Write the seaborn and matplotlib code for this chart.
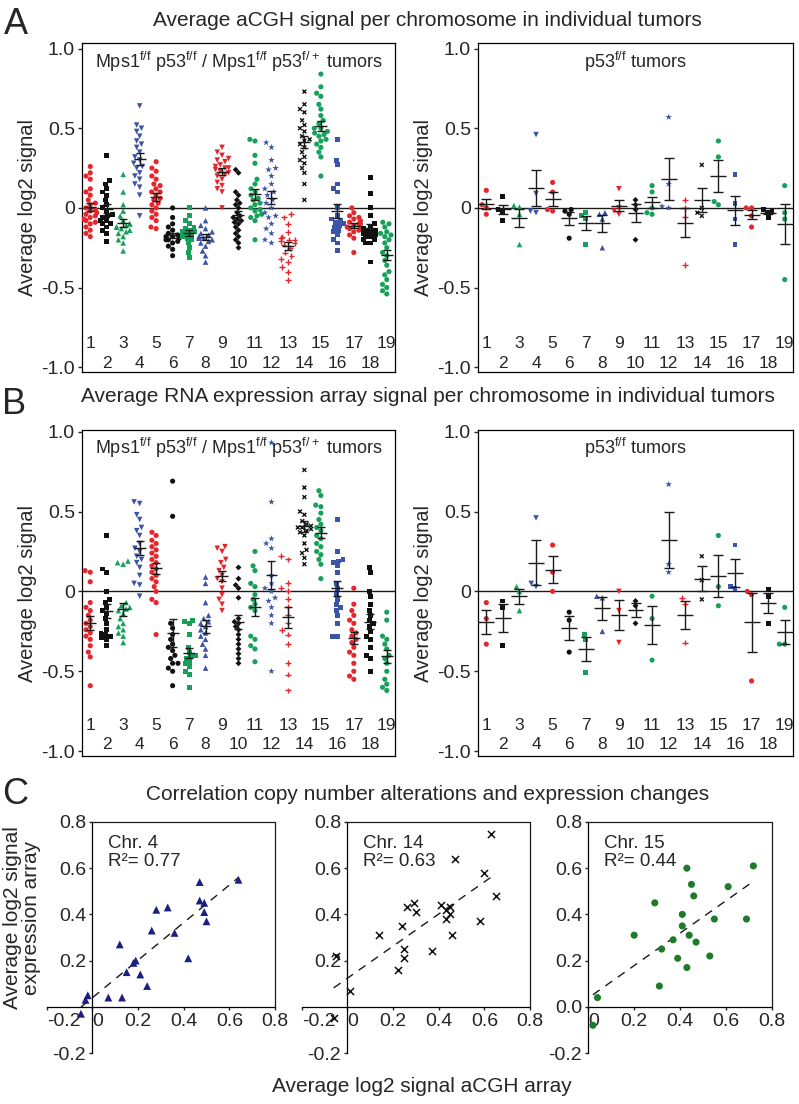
import warnings

import matplotlib
matplotlib.use("Agg")
import matplotlib.pyplot as plt
import matplotlib.transforms as mtrans
from matplotlib.markers import MarkerStyle
import numpy as np
import seaborn as sns

warnings.filterwarnings("ignore")

chroms = [str(i) for i in range(1, 20)]

# A, Mps1 f/f tumors: average aCGH log2 signal per chromosome (one list per chromosome)
acgh_mps1 = [
    [0.26, 0.22, 0.20, 0.18, 0.12, 0.10, 0.08, 0.05, 0.03, 0.02, 0.0, -0.01, -0.02, -0.03, -0.04, -0.05, -0.06, -0.07, -0.08, -0.09, -0.10, -0.12, -0.14, -0.16, -0.18],
    [0.33, 0.17, 0.15, 0.12, 0.10, 0.08, 0.05, 0.02, 0.0, -0.02, -0.04, -0.05, -0.06, -0.08, -0.10, -0.12, -0.14, -0.16, -0.21, -0.08, -0.10],
    [0.21, 0.10, 0.02, -0.02, -0.05, -0.08, -0.10, -0.11, -0.12, -0.13, -0.14, -0.15, -0.16, -0.18, -0.20, -0.22, -0.27, -0.12, -0.10],
    [0.64, 0.52, 0.50, 0.48, 0.45, 0.42, 0.40, 0.38, 0.35, 0.32, 0.30, 0.28, 0.26, 0.25, 0.22, 0.20, 0.18, 0.15, 0.13, 0.08, -0.05],
    [0.29, 0.25, 0.23, 0.20, 0.18, 0.15, 0.12, 0.10, 0.08, 0.06, 0.05, 0.03, 0.02, 0.0, -0.02, -0.04, -0.06, -0.08, -0.12, -0.13, 0.10, 0.14],
    [0.0, -0.06, -0.10, -0.12, -0.14, -0.16, -0.17, -0.18, -0.19, -0.20, -0.21, -0.22, -0.24, -0.26, -0.30, -0.18, -0.20],
    [0.0, -0.05, -0.08, -0.10, -0.12, -0.14, -0.15, -0.16, -0.17, -0.18, -0.19, -0.20, -0.22, -0.25, -0.28, -0.31, -0.13, -0.15],
    [0.0, -0.08, -0.11, -0.13, -0.15, -0.17, -0.18, -0.19, -0.20, -0.21, -0.22, -0.24, -0.27, -0.30, -0.34, -0.16, -0.19],
    [0.38, 0.35, 0.33, 0.31, 0.29, 0.27, 0.26, 0.25, 0.24, 0.23, 0.22, 0.21, 0.20, 0.18, 0.16, 0.14, 0.12, 0.10, 0.0, 0.25, 0.30],
    [0.24, 0.22, 0.10, 0.08, 0.05, 0.03, 0.02, 0.0, -0.03, -0.05, -0.07, -0.09, -0.10, -0.12, -0.14, -0.16, -0.18, -0.20, -0.22, -0.25, -0.06, -0.08],
    [0.43, 0.42, 0.33, 0.28, 0.18, 0.15, 0.12, 0.10, 0.08, 0.06, 0.05, 0.03, 0.02, 0.0, -0.01, -0.02, -0.04, -0.05, -0.06, -0.08, -0.20],
    [0.41, 0.38, 0.30, 0.25, 0.24, 0.20, 0.15, 0.12, 0.10, 0.05, 0.03, 0.0, -0.03, -0.06, -0.10, -0.13, -0.16, -0.20, -0.22, 0.08, -0.05],
    [-0.04, -0.06, -0.10, -0.15, -0.18, -0.20, -0.21, -0.22, -0.23, -0.25, -0.28, -0.30, -0.32, -0.34, -0.37, -0.40, -0.45, -0.20, -0.19],
    [0.73, 0.65, 0.62, 0.60, 0.55, 0.52, 0.50, 0.48, 0.45, 0.43, 0.42, 0.40, 0.38, 0.35, 0.32, 0.30, 0.28, 0.25, 0.22, 0.15, 0.05],
    [0.84, 0.76, 0.72, 0.70, 0.65, 0.62, 0.58, 0.55, 0.53, 0.50, 0.48, 0.47, 0.45, 0.43, 0.42, 0.40, 0.38, 0.35, 0.32, 0.20, 0.50, 0.46],
    [0.43, 0.30, 0.27, 0.15, 0.12, 0.10, 0.0, -0.05, -0.07, -0.09, -0.10, -0.12, -0.14, -0.15, -0.17, -0.20, -0.22, -0.27, -0.08, -0.11],
    [0.0, -0.03, -0.05, -0.07, -0.08, -0.09, -0.10, -0.11, -0.12, -0.13, -0.14, -0.15, -0.17, -0.19, -0.28, -0.10, -0.12, -0.06],
    [0.19, 0.09, 0.0, -0.05, -0.10, -0.12, -0.14, -0.15, -0.16, -0.17, -0.18, -0.20, -0.22, -0.34, -0.13, -0.15, -0.18, -0.20, -0.22],
    [-0.09, -0.10, -0.12, -0.15, -0.18, -0.20, -0.22, -0.25, -0.28, -0.30, -0.33, -0.36, -0.40, -0.42, -0.45, -0.48, -0.50, -0.52, -0.54, -0.16, -0.17],
]

# A, p53 f/f tumors
acgh_p53 = [
    [0.11, 0.02, 0.0, -0.04],
    [0.07, -0.01, -0.02, -0.08],
    [0.015, 0.005, -0.04, -0.23],
    [0.46, 0.09, -0.02, -0.03],
    [0.16, 0.10, -0.02, -0.01],
    [-0.01, -0.02, -0.04, -0.19],
    [-0.03, -0.05, -0.07, -0.23],
    [-0.03, -0.04, -0.07, -0.25],
    [0.12, 0.0, -0.02, -0.04],
    [0.05, 0.02, -0.01, -0.20],
    [0.14, 0.10, 0.0, -0.03, -0.04],
    [0.57, 0.15, 0.01, 0.0],
    [0.05, 0.0, -0.06, -0.36],
    [0.27, 0.0, -0.03, -0.05],
    [0.42, 0.32, 0.04, 0.02],
    [0.21, 0.03, -0.07, -0.23],
    [0.0, 0.0, -0.05, -0.12],
    [-0.01, -0.02, -0.03, -0.06],
    [0.14, -0.03, -0.07, -0.45],
]

# B, Mps1 f/f tumors: average RNA expression array log2 signal
rna_mps1 = [
    [0.13, 0.12, 0.06, -0.07, -0.10, -0.12, -0.15, -0.18, -0.20, -0.22, -0.24, -0.26, -0.28, -0.30, -0.34, -0.38, -0.41, -0.59],
    [0.35, 0.14, 0.12, 0.0, -0.05, -0.07, -0.10, -0.12, -0.14, -0.17, -0.20, -0.24, -0.26, -0.27, -0.28, -0.29, -0.30, -0.34],
    [0.19, 0.18, 0.17, -0.07, -0.09, -0.10, -0.11, -0.12, -0.14, -0.17, -0.20, -0.22, -0.24, -0.26, -0.28, -0.32],
    [0.56, 0.55, 0.48, 0.45, 0.40, 0.38, 0.35, 0.30, 0.27, 0.25, 0.22, 0.20, 0.18, 0.15, 0.10, 0.05, 0.04, -0.03],
    [0.37, 0.35, 0.32, 0.30, 0.28, 0.26, 0.24, 0.22, 0.20, 0.18, 0.16, 0.14, 0.12, 0.10, 0.08, 0.06, 0.03, 0.0, -0.05, -0.07, -0.27],
    [0.69, 0.47, -0.20, -0.23, -0.27, -0.30, -0.33, -0.35, -0.37, -0.40, -0.42, -0.45, -0.45, -0.48, -0.50, -0.59],
    [-0.18, -0.19, -0.20, -0.27, -0.35, -0.38, -0.40, -0.41, -0.42, -0.44, -0.45, -0.47, -0.50, -0.52, -0.60],
    [0.09, 0.05, -0.07, -0.15, -0.17, -0.19, -0.20, -0.22, -0.24, -0.26, -0.28, -0.30, -0.33, -0.36, -0.40, -0.48],
    [0.28, 0.27, 0.25, 0.20, 0.18, 0.15, 0.13, 0.10, 0.08, 0.06, 0.02, -0.02, -0.05, -0.08, -0.12],
    [0.15, 0.08, 0.04, 0.02, -0.04, -0.17, -0.19, -0.20, -0.22, -0.24, -0.27, -0.30, -0.33, -0.36, -0.39, -0.42, -0.45],
    [0.25, 0.16, 0.13, 0.05, 0.03, -0.02, -0.05, -0.08, -0.10, -0.12, -0.28, -0.30, -0.34, -0.36, -0.44],
    [0.93, 0.56, 0.33, 0.30, 0.27, 0.10, 0.05, 0.02, 0.0, -0.04, -0.06, -0.10, -0.15, -0.20, -0.50],
    [0.22, 0.20, 0.05, 0.02, 0.0, -0.05, -0.10, -0.15, -0.20, -0.24, -0.27, -0.33, -0.45, -0.52, -0.62],
    [0.76, 0.65, 0.59, 0.50, 0.48, 0.44, 0.42, 0.41, 0.40, 0.40, 0.39, 0.38, 0.37, 0.35, 0.30, 0.26, 0.24, 0.21, 0.17],
    [0.63, 0.60, 0.54, 0.53, 0.49, 0.45, 0.42, 0.40, 0.38, 0.35, 0.33, 0.30, 0.28, 0.25, 0.23, 0.20, 0.17, 0.08],
    [0.45, 0.25, 0.20, 0.19, 0.18, 0.16, 0.12, 0.05, 0.02, -0.02, -0.05, -0.08, -0.10, -0.12, -0.15, -0.20, -0.28, -0.28],
    [0.02, -0.08, -0.12, -0.15, -0.18, -0.20, -0.24, -0.26, -0.28, -0.30, -0.32, -0.35, -0.38, -0.40, -0.45, -0.50, -0.53, -0.55],
    [0.15, 0.12, 0.0, -0.03, -0.08, -0.12, -0.15, -0.18, -0.20, -0.22, -0.25, -0.28, -0.30, -0.35, -0.40, -0.42, -0.50],
    [-0.13, -0.18, -0.28, -0.30, -0.33, -0.36, -0.40, -0.42, -0.45, -0.50, -0.55, -0.58, -0.60, -0.62],
]

# B, p53 f/f tumors
rna_p53 = [
    [-0.07, -0.17, -0.33],
    [-0.06, -0.10, -0.34],
    [0.03, 0.0, -0.12],
    [0.46, 0.05, 0.03],
    [0.29, 0.12, 0.0],
    [-0.13, -0.18, -0.38],
    [-0.27, -0.30, -0.51],
    [-0.03, -0.04, -0.25],
    [0.0, -0.12, -0.32],
    [-0.06, -0.09, -0.20],
    [-0.03, -0.17, -0.43],
    [0.67, 0.17, 0.12],
    [-0.04, -0.08, -0.32],
    [0.22, 0.07, -0.05],
    [0.35, 0.03, -0.09],
    [0.29, 0.03, 0.02],
    [0.0, -0.02, -0.56],
    [0.01, -0.03, -0.20],
    [-0.10, -0.33, -0.33],
]

# C, per tumor: aCGH signal (x) vs expression signal (y)
chr4_acgh = [-0.05, -0.03, -0.02, 0.07, 0.13, 0.12, 0.15, 0.18, 0.19, 0.21, 0.24, 0.26, 0.28, 0.33, 0.36, 0.42, 0.47, 0.47, 0.49, 0.49, 0.50, 0.64]
chr4_rna = [-0.03, 0.03, 0.05, 0.04, 0.04, 0.27, 0.15, 0.19, 0.20, 0.14, 0.09, 0.33, 0.42, 0.43, 0.32, 0.21, 0.54, 0.46, 0.45, 0.41, 0.37, 0.55]
chr14_acgh = [-0.06, -0.05, 0.01, 0.14, 0.22, 0.24, 0.25, 0.25, 0.26, 0.29, 0.30, 0.37, 0.41, 0.43, 0.43, 0.45, 0.45, 0.46, 0.47, 0.58, 0.60, 0.63, 0.65]
chr14_rna = [-0.05, 0.22, 0.07, 0.31, 0.16, 0.35, 0.25, 0.21, 0.43, 0.45, 0.41, 0.24, 0.44, 0.38, 0.42, 0.43, 0.40, 0.31, 0.64, 0.37, 0.58, 0.75, 0.48]
chr15_acgh = [0.02, 0.04, 0.20, 0.29, 0.31, 0.32, 0.37, 0.39, 0.41, 0.41, 0.43, 0.43, 0.44, 0.45, 0.46, 0.47, 0.53, 0.55, 0.61, 0.69, 0.72]
chr15_rna = [-0.08, 0.04, 0.31, 0.45, 0.09, 0.25, 0.29, 0.21, 0.40, 0.35, 0.60, 0.17, 0.31, 0.53, 0.48, 0.28, 0.22, 0.38, 0.52, 0.38, 0.61]

RED, BLACK, GREEN, BLUE = "#e5262d", "#111111", "#17a05a", "#3c54a5"
colors = [RED, BLACK, GREEN, BLUE] * 4 + [RED, BLACK, GREEN]
markers = ["o", "s", "^", "v", "o", "o", "s", "^", "v", "D",
           "o", "*", "+", "x", "o", "s", "o", "s", "o"]
msize = {"o": 3.7, "s": 3.5, "^": 4.0, "v": 4.0, "D": 3.0, "*": 5.0, "+": 4.2, "x": 2.8}

sns.set_theme(style="white")
plt.rcParams["font.family"] = ["Liberation Sans", "DejaVu Sans"]
plt.rcParams["mathtext.fontset"] = "custom"
plt.rcParams["mathtext.rm"] = "Liberation Sans"
plt.rcParams["axes.edgecolor"] = "black"
plt.rcParams["axes.linewidth"] = 0.9

W, H = 799, 1104
fig = plt.figure(figsize=(W / 100, H / 100), dpi=100)


def box(x0, y0, x1, y1):
    return [x0 / W, 1 - y1 / H, (x1 - x0) / W, (y1 - y0) / H]


MPS1 = r"Mps1$^{\mathrm{f/f}}$ p53$^{\mathrm{f/f}}$ / Mps1$^{\mathrm{f/f}}$ p53$^{\mathrm{f/+}}$ tumors"
P53 = r"p53$^{\mathrm{f/f}}$ tumors"


def strip_panel(ax, data, label, ylim, half, cap, rows):
    xs = [chroms[i] for i, v in enumerate(data) for _ in v]
    ys = [y for v in data for y in v]
    n0 = len(ax.collections)
    # one swarm call per panel (each call redraws the figure), markers set afterwards
    sns.swarmplot(x=xs, y=ys, hue=xs, order=chroms, hue_order=chroms,
                  palette=dict(zip(chroms, colors)), size=4, linewidth=0,
                  legend=False, ax=ax, zorder=3)
    for coll, m, c in zip(ax.collections[n0:], markers, colors):
        ms = MarkerStyle(m)
        coll.set_paths([ms.get_path().transformed(ms.get_transform())])
        coll.set_sizes([msize[m] ** 2])
        if m in ("x", "+"):
            coll.set_facecolor("none")
            coll.set_edgecolor(c)
            coll.set_linewidth(1.0)
        else:
            coll.set_facecolor(c)
            coll.set_edgecolor("none")
            coll.set_linewidth(0)
    for i, vals in enumerate(data):
        v = np.array(vals)
        mean = v.mean()
        sem = v.std(ddof=1) / np.sqrt(len(v))
        ax.errorbar(i, mean, yerr=sem, fmt="none", ecolor="k", elinewidth=1,
                    capsize=cap, capthick=1, zorder=5)
        ax.hlines(mean, i - half, i + half, color="k", lw=1, zorder=5)
    ax.axhline(0, color="k", lw=1, zorder=2)
    ax.set_xlim(-0.5, 18.5)
    ax.set_ylim(*ylim)
    ax.set_xticks([])
    ax.set_xlabel("")
    ax.set_yticks([-1, -0.5, 0, 0.5, 1])
    ax.set_yticklabels(["-1.0", "-0.5", "0", "0.5", "1.0"])
    ax.tick_params(axis="y", left=True, direction="out", length=3, width=1,
                   labelsize=14, pad=2)
    ax.set_ylabel("Average log2 signal", fontsize=14.5, labelpad=3)
    ax.text(0.5, rows[2], label, transform=ax.transAxes, ha="center", va="center",
            fontsize=13)
    tr = mtrans.blended_transform_factory(ax.transData, ax.transAxes)
    for i, lab in enumerate(chroms):
        ax.text(i, rows[i % 2], lab, transform=tr, ha="center", va="center",
                fontsize=12.5)


axA1 = fig.add_axes(box(82, 43, 395, 372))
axA2 = fig.add_axes(box(478, 43, 793, 372))
axB1 = fig.add_axes(box(82, 430, 395, 756))
axB2 = fig.add_axes(box(478, 430, 793, 756))

strip_panel(axA1, acgh_mps1, MPS1, (-1.03, 1.035), 0.36, 2.8, (0.088, 0.027, 0.942))
strip_panel(axA2, acgh_p53, P53, (-1.03, 1.035), 0.48, 3.6, (0.088, 0.027, 0.942))
strip_panel(axB1, rna_mps1, MPS1, (-1.03, 1.01), 0.36, 2.8, (0.095, 0.034, 0.945))
strip_panel(axB2, rna_p53, P53, (-1.03, 1.01), 0.48, 3.6, (0.095, 0.034, 0.945))


def corr_panel(ax, xs, ys, marker, color, size, label, right):
    lw = 1.1 if marker == "x" else 0
    sns.scatterplot(x=xs, y=ys, marker=marker, color=color, s=size, linewidth=lw,
                    edgecolor=color if marker == "x" else "none", ax=ax, zorder=3)
    sns.regplot(x=xs, y=ys, scatter=False, ci=None, color="k", ax=ax,
                line_kws=dict(lw=1, ls=(0, (6, 5))))
    ax.set_xlim(0 if right else -0.2, 0.8)
    ax.set_ylim(-0.2, 0.8)
    for s in ("top", "right"):
        ax.spines[s].set_visible(False)
    ax.spines["left"].set_position(("data", 0))
    ax.spines["bottom"].set_position(("data", 0))
    ax.plot([0, 0.8, 0.8], [0.8, 0.8, 0], color="k", lw=0.9, clip_on=False)
    if right:
        ax.set_xticks([0, 0.2, 0.4, 0.6, 0.8])
        ax.set_xticklabels(["0", "0.2", "0.4", "0.6", "0.8"])
        ax.set_yticks([-0.2, 0, 0.2, 0.4, 0.6, 0.8])
        ax.set_yticklabels(["-0.2", "0.0", "0.2", "0.4", "0.6", "0.8"])
    else:
        ax.set_xticks([-0.2, 0, 0.2, 0.4, 0.6, 0.8])
        ax.set_xticklabels(["-0.2", "0", "0.2", "0.4", "0.6", "0.8"])
        ax.set_yticks([-0.2, 0.2, 0.4, 0.6, 0.8])
        ax.set_yticklabels(["-0.2", "0.2", "0.4", "0.6", "0.8"])
    ax.tick_params(left=True, bottom=True, direction="out", length=2.5, width=1,
                   labelsize=14, pad=2)
    xt = ax.get_xticklabels()
    xt[0].set_ha("left")
    if not right:
        xt[1].set_ha("left")
    ax.set_xlabel("")
    ax.set_ylabel("")
    ax.text(0.07, 0.745, label, ha="left", va="top", fontsize=13.5, linespacing=1.1)


axC1 = fig.add_axes(box(46.7, 822, 275, 1053))
axC2 = fig.add_axes(box(301.7, 822, 530, 1053))
axC3 = fig.add_axes(box(588.3, 822, 771.7, 1053))
corr_panel(axC1, chr4_acgh, chr4_rna, "^", "#1c1f7e", 32, "Chr. 4\nR²= 0.77", False)
corr_panel(axC2, chr14_acgh, chr14_rna, "x", "#111111", 26, "Chr. 14\nR²= 0.63", False)
corr_panel(axC3, chr15_acgh, chr15_rna, "o", "#1f7a2a", 26, "Chr. 15\nR²= 0.44", True)

# titles, panel letters and shared labels
fig.text(427 / W, 1 - 21 / H, "Average aCGH signal per chromosome in individual tumors",
         ha="center", va="center", fontsize=15)
fig.text(428 / W, 1 - 396 / H,
         "Average RNA expression array signal per chromosome in individual tumors",
         ha="center", va="center", fontsize=15)
fig.text(428 / W, 1 - 795 / H, "Correlation copy number alterations and expression changes",
         ha="center", va="center", fontsize=15)
for letter, (lx, ly) in {"A": (16, 24), "B": (14, 405), "C": (15, 795)}.items():
    fig.text(lx / W, 1 - ly / H, letter, ha="center", va="center", fontsize=26)
fig.text(22 / W, 1 - 918 / H, "Average log2 signal\nexpression array", rotation=90,
         ha="center", va="center", fontsize=15, linespacing=1.0)
fig.text(422 / W, 1 - 1087 / H, "Average log2 signal aCGH array", ha="center",
         va="center", fontsize=15)

fig.savefig("out.png", dpi=100)
